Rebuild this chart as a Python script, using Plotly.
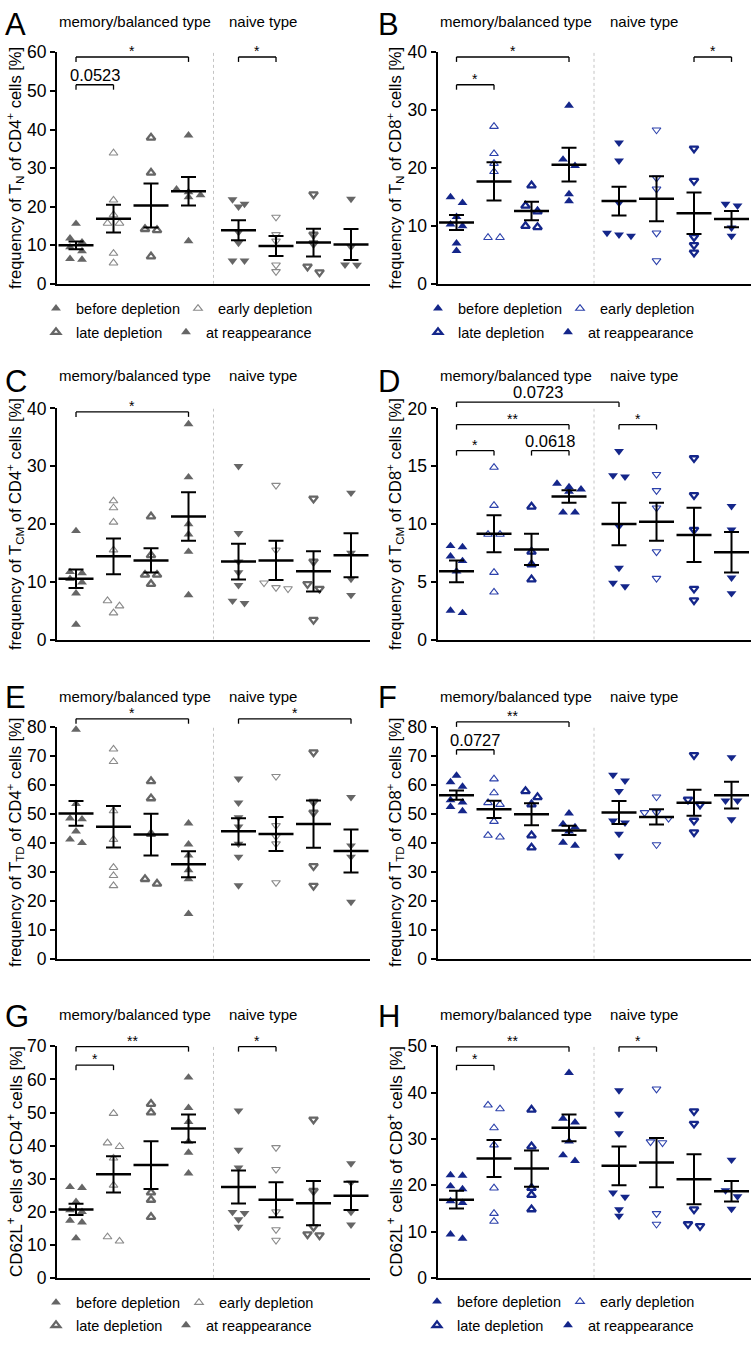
import plotly.graph_objects as go

# ------------------------------------------------------------------ data
CONDITIONS = ["before depletion", "early depletion", "late depletion", "at reappearance"]
GROUP_NAMES = ["memory/balanced type", "naive type"]

# each panel: 8 groups = 4 conditions (memory/balanced type) + 4 conditions (naive type)
A_values = [[15.6, 11.8, 10.8, 9.5, 8.5, 6.5, 6.3], [33.9, 21.7, 17.9, 15.7, 15.7, 7.9, 5.4],
            [37.9, 28.8, 14.2, 13.9, 7.1], [38.5, 24.5, 23.8, 23.0, 22.5, 11.1],
            [21.9, 20.7, 20.0, 13.4, 10.6, 6.0, 6.0], [17.3, 12.8, 11.1, 4.9, 3.2],
            [23.2, 12.8, 10.5, 4.5, 3.0], [22.0, 9.6, 5.0, 4.9]]
A_mean = [10.0, 16.9, 20.3, 24.0, 13.9, 9.8, 10.7, 10.2]
A_sem = [1.0, 3.6, 5.7, 3.7, 2.6, 2.6, 3.6, 4.0]

B_values = [[15.0, 14.0, 11.6, 10.3, 10.0, 7.0, 5.7], [27.2, 22.5, 20.8, 19.4, 8.0, 8.0],
            [17.0, 13.5, 12.5, 10.0, 9.8], [30.8, 21.5, 20.4, 15.5, 14.3],
            [24.4, 21.3, 14.0, 8.8, 8.5, 8.3], [26.6, 18.3, 16.4, 8.8, 4.0],
            [23.4, 17.8, 8.1, 6.7, 5.4], [13.8, 13.5, 9.7, 8.3]]
B_mean = [10.6, 17.7, 12.6, 20.6, 14.3, 14.7, 12.2, 11.2]
B_sem = [1.3, 3.3, 1.6, 2.9, 2.5, 3.9, 3.6, 1.4]

C_values = [[18.8, 11.7, 11.5, 10.5, 9.9, 8.0, 2.6], [24.0, 22.8, 20.3, 15.5, 6.7, 5.8, 4.6],
            [21.3, 14.6, 11.2, 11.2, 9.6], [37.3, 28.1, 20.0, 18.2, 15.2, 7.7],
            [30.0, 18.4, 13.5, 11.6, 9.4, 6.7, 6.3], [26.7, 15.5, 9.8, 9.0, 8.8],
            [24.4, 13.5, 9.6, 8.8, 3.4], [25.4, 15.0, 10.5, 7.7]]
C_mean = [10.5, 14.4, 13.7, 21.3, 13.5, 13.7, 11.8, 14.6]
C_sem = [1.6, 3.1, 2.1, 4.2, 3.1, 3.4, 3.5, 3.8]

D_values = [[8.1, 8.0, 7.2, 6.8, 5.9, 2.5, 2.3], [14.9, 11.6, 9.1, 9.1, 5.8, 4.1],
            [11.5, 7.6, 6.5, 5.2], [13.5, 13.2, 13.0, 12.8, 11.0, 11.0],
            [16.3, 14.2, 14.1, 9.8, 6.2, 4.9, 4.6], [14.3, 12.9, 11.4, 7.6, 5.3],
            [15.7, 12.5, 9.5, 4.4, 3.4], [11.55, 9.5, 5.35, 4.0]]
D_mean = [5.9, 9.15, 7.8, 12.38, 10.0, 10.2, 9.05, 7.55]
D_sem = [0.95, 1.6, 1.35, 0.55, 1.85, 1.65, 2.35, 1.75]

E_values = [[79.2, 53.5, 48.5, 48.2, 44.0, 41.2, 40.0], [72.4, 68.1, 51.1, 41.2, 31.5, 28.7, 25.2],
            [61.3, 55.4, 43.1, 27.5, 25.9], [46.8, 39.5, 35.7, 30.6, 27.5, 15.5],
            [62.2, 53.9, 48.8, 45.6, 39.7, 35.2, 25.3], [63.0, 46.0, 42.2, 39.7, 26.3],
            [71.3, 54.2, 50.5, 32.0, 25.2], [55.8, 39.1, 35.2, 19.6]]
E_mean = [50.2, 45.6, 42.9, 32.6, 44.0, 43.1, 46.5, 37.2]
E_sem = [4.3, 7.2, 7.2, 4.5, 4.5, 5.9, 8.2, 7.4]

F_values = [[63.3, 61.0, 59.5, 54.8, 54.0, 52.5, 51.0], [62.1, 57.3, 53.9, 53.3, 47.4, 42.6, 42.0],
            [57.9, 55.8, 53.3, 42.6, 38.4], [50.2, 46.5, 45.5, 44.0, 40.1, 39.1],
            [63.5, 61.5, 57.9, 47.7, 47.0, 43.1, 35.5], [55.9, 50.5, 50.5, 48.5, 39.4],
            [70.4, 55.0, 53.3, 47.7, 43.7], [69.6, 54.6, 54.6, 48.1]]
F_mean = [56.5, 51.6, 49.9, 44.3, 50.5, 49.0, 53.9, 56.5]
F_sem = [1.6, 3.0, 3.8, 1.6, 4.0, 2.6, 4.5, 4.6]

G_values = [[27.5, 27.2, 23.0, 20.5, 20.0, 17.3, 16.8, 12.0], [49.7, 40.8, 39.7, 36.2, 28.0, 12.4, 11.1],
            [52.6, 50.0, 25.8, 23.6, 18.4], [60.6, 51.4, 47.2, 41.2, 37.9, 31.6],
            [50.6, 38.7, 33.3, 19.9, 19.6, 17.7, 15.4], [39.4, 32.8, 20.0, 14.6, 11.4],
            [47.9, 26.3, 15.4, 13.2, 12.9], [34.6, 28.8, 19.9, 16.1]]
G_mean = [20.7, 31.3, 34.1, 45.2, 27.5, 23.6, 22.6, 24.8]
G_sem = [1.7, 5.5, 7.2, 4.2, 5.0, 5.3, 6.7, 4.3]

H_values = [[22.2, 22.1, 19.8, 19.2, 16.6, 16.2, 9.4, 8.5], [37.3, 36.5, 32.4, 28.7, 19.4, 13.9, 12.2],
            [36.3, 28.4, 19.4, 17.9, 14.8], [44.3, 34.4, 33.6, 29.5, 26.5, 25.3],
            [40.5, 35.4, 31.2, 18.4, 17.5, 14.8, 13.4], [40.8, 29.4, 29.2, 13.9, 11.6],
            [36.0, 33.3, 14.8, 11.6, 11.2], [25.5, 18.9, 17.6, 14.9]]
H_mean = [16.9, 25.8, 23.6, 32.4, 24.2, 24.9, 21.3, 18.7]
H_sem = [1.9, 4.0, 3.9, 2.9, 4.2, 5.3, 5.4, 2.2]

# significance brackets: (group i, group j, label, level in data units)
A_sig = [(0, 3, "*", 58.8), (0, 1, "0.0523", 51.6), (4, 5, "*", 58.8)]
B_sig = [(0, 3, "*", 39.2), (0, 1, "*", 34.4), (6, 7, "*", 39.2)]
C_sig = [(0, 3, "*", 39.4)]
D_sig = [(0, 4, "0.0723", 20.55), (0, 3, "**", 18.6), (0, 1, "*", 16.35),
         (2, 3, "0.0618", 16.35), (4, 5, "*", 18.6)]
E_sig = [(0, 3, "*", 82.9), (4, 7, "*", 82.9)]
F_sig = [(0, 3, "**", 81.8), (0, 1, "0.0727", 72.2)]
G_sig = [(0, 3, "**", 69.9), (0, 1, "*", 64.3), (4, 5, "*", 69.9)]
H_sig = [(0, 3, "**", 49.9), (0, 1, "*", 45.9), (4, 5, "*", 49.9)]

# ------------------------------------------------------------------ layout spec
W, H = 752, 1346
FONT = "Liberation Sans, Arial, Helvetica, sans-serif"
PX_PER_X = 37.5
XR = [-0.507, 7.84]
XPOS = [0, 1, 2, 3, 4 + 1 / 3, 5 + 1 / 3, 6 + 1 / 3, 7 + 1 / 3]
DIVIDER = (XPOS[3] + XPOS[4]) / 2
COL_LEFT = [57.0, 437.5]
PLOT_W = (XR[1] - XR[0]) * PX_PER_X
ROWS = [(43.0, 278.0), (404.5, 639.0), (728.0, 963.0), (1052.0, 1287.0)]
LABEL_Y = [12, 371, 697, 1020]
LETTER_Y = [15, 377, 698, 1022]

GRAY, GRAY_LIGHT = "#666666", "#8a8a8a"
NAVY, NAVY_LIGHT = "#14268a", "#2c41ab"

T = "frequency of T<sub>{}</sub> of CD{}<sup>+</sup> cells [%]"
panels = [
    dict(L="A", v=A_values, m=A_mean, s=A_sem, sig=A_sig, col=0, row=0, top=60, dt=10,
         c=(GRAY, GRAY_LIGHT), title=T.format("N", 4), tfs=16.5, leg=0),
    dict(L="B", v=B_values, m=B_mean, s=B_sem, sig=B_sig, col=1, row=0, top=40, dt=10,
         c=(NAVY, NAVY_LIGHT), title=T.format("N", 8), tfs=16.5, leg=1),
    dict(L="C", v=C_values, m=C_mean, s=C_sem, sig=C_sig, col=0, row=1, top=40, dt=10,
         c=(GRAY, GRAY_LIGHT), title=T.format("CM", 4), tfs=16.5, leg=None),
    dict(L="D", v=D_values, m=D_mean, s=D_sem, sig=D_sig, col=1, row=1, top=20, dt=5,
         c=(NAVY, NAVY_LIGHT), title=T.format("CM", 8), tfs=16.5, leg=None),
    dict(L="E", v=E_values, m=E_mean, s=E_sem, sig=E_sig, col=0, row=2, top=80, dt=10,
         c=(GRAY, GRAY_LIGHT), title=T.format("TD", 4), tfs=16.5, leg=None),
    dict(L="F", v=F_values, m=F_mean, s=F_sem, sig=F_sig, col=1, row=2, top=80, dt=10,
         c=(NAVY, NAVY_LIGHT), title=T.format("TD", 8), tfs=16.5, leg=None),
    dict(L="G", v=G_values, m=G_mean, s=G_sem, sig=G_sig, col=0, row=3, top=70, dt=10,
         c=(GRAY, GRAY_LIGHT), title="CD62L<sup>+</sup> cells of CD4<sup>+</sup> cells [%]", tfs=17,
         leg=2),
    dict(L="H", v=H_values, m=H_mean, s=H_sem, sig=H_sig, col=1, row=3, top=50, dt=10,
         c=(NAVY, NAVY_LIGHT), title="CD62L<sup>+</sup> cells of CD8<sup>+</sup> cells [%]", tfs=17,
         leg=3),
]

# legend key positions (glyph centre x, y) per legend block, in pixels
LEGEND_BLOCKS = [
    [(61, 303), (203, 303), (61, 327), (191, 327)],
    [(443, 303), (585, 303), (443, 327), (573, 327)],
    [(61, 1312), (204, 1312), (61, 1335), (191, 1335)],
    [(442, 1311), (585, 1311), (442, 1335), (573, 1335)],
]


def px(x):
    return x / W


def py(y):
    return 1 - y / H


def swarm_offsets(vals, ppu, dy=6.5, dx=12.0):
    idx = sorted(range(len(vals)), key=lambda i: -vals[i])
    rows = []
    for i in idx:
        if rows and (vals[rows[-1][0]] - vals[i]) * ppu < dy:
            rows[-1].append(i)
        else:
            rows.append([i])
    offs = [0.0] * len(vals)
    for r in rows:
        k = len(r)
        for j, i in enumerate(r):
            offs[i] = (j - (k - 1) / 2) * dx
    return offs


fig = go.Figure()
layout = dict(width=W, height=H, margin=dict(l=0, r=0, t=0, b=0), paper_bgcolor="white",
              plot_bgcolor="white", font=dict(family=FONT, color="black"), showlegend=True)
shapes, annotations = [], []

for n, p in enumerate(panels, start=1):
    xa = "x" if n == 1 else f"x{n}"
    ya = "y" if n == 1 else f"y{n}"
    top_px, zero_px = ROWS[p["row"]]
    left = COL_LEFT[p["col"]]
    plot_h = zero_px - top_px
    ppu = plot_h / p["top"]

    layout["xaxis" if n == 1 else f"xaxis{n}"] = dict(
        domain=[px(left), px(left + PLOT_W)], range=XR, anchor=ya, showline=True, linewidth=2,
        linecolor="black", ticks="", showticklabels=False, showgrid=False, zeroline=False, fixedrange=True)
    layout["yaxis" if n == 1 else f"yaxis{n}"] = dict(
        domain=[py(zero_px), py(top_px)], range=[0, p["top"]], anchor=xa, showline=True, linewidth=2,
        linecolor="black", ticks="outside", ticklen=5, tickwidth=2, tickcolor="black", dtick=p["dt"],
        tick0=0, tickfont=dict(size=17.5, color="black", family=FONT), showgrid=False, zeroline=False,
        fixedrange=True)

    # divider between the two types
    shapes.append(dict(type="line", xref=xa, yref=ya, x0=DIVIDER, x1=DIVIDER, y0=0, y1=p["top"],
                       line=dict(color="#c4c4c4", width=1, dash="dot")))

    # data points
    for g in range(8):
        cond = g % 4
        naive = g >= 4
        ys = p["v"][g]
        offs = swarm_offsets(ys, ppu)
        xs = [XPOS[g] + o / PX_PER_X for o in offs]
        symbol = ("triangle-down" if naive else "triangle-up") + ("-open" if cond in (1, 2) else "")
        col = p["c"][1] if cond == 1 else p["c"][0]
        lw = {0: 0, 1: 1.1, 2: 2.3, 3: 0}[cond]
        size = 8.6 if cond in (0, 3) else 7.6
        fig.add_trace(go.Scatter(
            x=xs, y=ys, mode="markers", xaxis=xa, yaxis=ya, name=CONDITIONS[cond],
            marker=dict(symbol=symbol, size=size, color=col, line=dict(width=lw, color=col)),
            cliponaxis=False, hoverinfo="skip", showlegend=False))
        # legend key (one legend per entry so each key sits where the reference has it)
        if p["leg"] is not None and not naive:
            li = p["leg"] * 4 + cond + 1
            lname = "legend" if li == 1 else f"legend{li}"
            fig.add_trace(go.Scatter(
                x=[None], y=[None], mode="markers", xaxis=xa, yaxis=ya, name=CONDITIONS[cond],
                marker=dict(symbol=symbol, size=size, color=col, line=dict(width=lw, color=col)),
                showlegend=True, legend=lname, hoverinfo="skip"))
            gx, gy = LEGEND_BLOCKS[p["leg"]][cond]
            layout[lname] = dict(orientation="h", x=px(gx - 25), xanchor="left", y=py(gy),
                                 yanchor="middle", bgcolor="rgba(0,0,0,0)", borderwidth=0,
                                 font=dict(size=14.5, color="black", family=FONT),
                                 itemclick=False, itemdoubleclick=False)

    # mean +/- SEM
    fig.add_trace(go.Scatter(
        x=XPOS, y=p["m"], mode="markers", xaxis=xa, yaxis=ya, showlegend=False, hoverinfo="skip",
        cliponaxis=False,
        marker=dict(symbol="line-ew", size=25, color="black", line=dict(width=2.5, color="black")),
        error_y=dict(type="data", array=p["s"], visible=True, color="black", thickness=2, width=7.5)))

    # significance brackets (paper coordinates, computed from axis scale)
    def bx(x):
        return left + (x - XR[0]) * PX_PER_X

    for (i, j, lab, lev) in p["sig"]:
        x1, x2 = bx(XPOS[i]), bx(XPOS[j])
        yl = zero_px - lev * ppu
        drop = 5
        for (a0, b0, a1, b1) in [(x1, yl + drop, x1, yl), (x1, yl, x2, yl), (x2, yl, x2, yl + drop)]:
            shapes.append(dict(type="line", xref="paper", yref="paper", x0=px(a0), y0=py(b0),
                               x1=px(a1), y1=py(b1), line=dict(color="black", width=1.3)))
        star = lab.startswith("*")
        annotations.append(dict(text=lab, xref="paper", yref="paper", x=px((x1 + x2) / 2), y=py(yl),
                                xanchor="center", yanchor="bottom", showarrow=False,
                                yshift=-4 if star else -1,
                                font=dict(size=14 if star else 16.5, color="black", family=FONT)))

    # y-axis title
    annotations.append(dict(text=p["title"], xref="paper", yref="paper", textangle=-90,
                            x=px(15 if p["col"] == 0 else 395), y=py((top_px + zero_px) / 2),
                            xanchor="center", yanchor="middle", showarrow=False,
                            font=dict(size=p["tfs"], color="black", family=FONT)))
    # group labels
    for k, gname in enumerate(GROUP_NAMES):
        annotations.append(dict(text=gname, xref="paper", yref="paper",
                                x=px(left + (0 if k == 0 else 170)), y=py(LABEL_Y[p["row"]]),
                                xanchor="left", yanchor="middle", showarrow=False,
                                font=dict(size=15, color="black", family=FONT)))
    # panel letter
    annotations.append(dict(text=p["L"], xref="paper", yref="paper",
                            x=px(3 if p["col"] == 0 else 376), y=py(LETTER_Y[p["row"]]),
                            xanchor="left", yanchor="middle", showarrow=False,
                            font=dict(size=31, color="black", family=FONT)))

layout["shapes"] = shapes
layout["annotations"] = annotations
fig.update_layout(**layout)

fig.write_html("out.html", config={"displayModeBar": False},
               post_script="document.body.style.margin='0px';")
